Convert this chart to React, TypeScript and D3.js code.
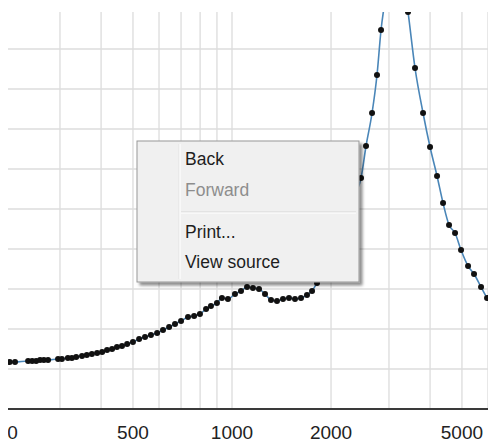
import React from "react";
import * as d3 from "d3";

// frequency (Hz) of each measured point
const freqs = [
  211, 219, 240, 247, 254, 261, 268, 276, 296, 304, 317, 326, 336, 350, 362, 375, 389, 403, 417, 432,
  447, 463, 480, 500, 522, 544, 567, 592, 617, 644, 671, 700, 735, 767, 799, 834, 863, 900, 932, 972,
  1021, 1065, 1111, 1158, 1208, 1260, 1314, 1370, 1429, 1490, 1554, 1621, 1690, 1751, 1813, 1891, 1972, 2057, 2145, 2221,
  2300, 2382, 2467, 2555, 2665, 2759, 2838, 2939, 3044, 3174, 3287, 3428, 3600, 3808, 3999, 4200, 4380, 4568, 4764, 4968,
  5218, 5441, 5715, 5960, 6259,
];
// measured response at each frequency
const values = [
  11.75, 11.75, 12, 12, 12, 12.25, 12.25, 12.25, 12.5, 12.5, 12.75, 12.75, 13, 13.25, 13.5, 13.75, 14, 14.25, 14.75, 15,
  15.5, 15.75, 16.25, 16.75, 17.5, 18, 18.5, 19, 19.75, 20.5, 21.25, 22, 23, 23.25, 23.75, 25, 25.75, 26.5, 27.75, 27.5,
  28.75, 29.5, 30.5, 30.25, 30, 28.75, 27.25, 27, 27.5, 27.75, 27.5, 27.75, 28.5, 29.5, 31.5, 34.25, 37.25, 40.5, 44, 47.25,
  50.75, 54, 57.75, 65.75, 74, 83.5, 94.75, 104, 114.75, 116.25, 109.75, 99.25, 85.25, 74, 65.5, 58.25, 51.5, 46, 44, 39.75,
  35.75, 33.75, 30.5, 27.75, 25.25,
];
const gridFreqs = [200, 300, 400, 500, 600, 700, 800, 900, 1000, 2000, 3000, 4000, 5000, 6000];
const tickFreqs = [200, 500, 1000, 2000, 5000];
const gridValues = [10, 20, 30, 40, 50, 60, 70, 80, 90];
const menuItems = ["Back", "Forward", "Print...", "View source"];
const menuEnabled = [true, false, true, true];

const W = 488;
const H = 443;
const left = 8;
const right = 488;
const top = 12;
const bottom = 409;

export default function App() {
  const x = d3.scaleLog().domain([208.5, 6000]).range([left, right]);
  const y = d3.scaleLinear().domain([0, 99.25]).range([bottom, top]);
  const pts = freqs.map((f, i) => [f, values[i]] as [number, number]);
  const line = d3
    .line<[number, number]>()
    .x((d) => x(d[0]))
    .y((d) => y(d[1]))
    .curve(d3.curveMonotoneX);

  const menuX = 137, menuY = 141, menuW = 222, menuH = 141;
  const baselines = [165, 196, 238, 268];

  return (
    <svg
      width={W}
      height={H}
      style={{ position: "absolute", left: 0, top: 0, background: "#fff" }}
      fontFamily="'Liberation Sans', Arial, sans-serif"
    >
      <defs>
        <clipPath id="plot">
          <rect x={left} y={top} width={right - left} height={bottom - top} />
        </clipPath>
        <clipPath id="page">
          <rect x={left} y={0} width={W - left} height={H} />
        </clipPath>
        <filter id="shadow" x="-10%" y="-10%" width="130%" height="130%">
          <feDropShadow dx="3" dy="3" stdDeviation="1.8" floodColor="#000" floodOpacity="0.45" />
        </filter>
      </defs>
      <rect x={0} y={0} width={W} height={H} fill="#fff" />
      <g clipPath="url(#page)">
        {gridFreqs.map((f) => (
          <line key={"v" + f} x1={x(f)} x2={x(f)} y1={top} y2={bottom} stroke="#dcdcdc" strokeWidth={1.3} />
        ))}
        {gridValues.map((v) => (
          <line key={"h" + v} x1={left} x2={right} y1={y(v)} y2={y(v)} stroke="#dcdcdc" strokeWidth={1.3} />
        ))}
        <line x1={left} x2={right} y1={bottom} y2={bottom} stroke="#3a3a3a" strokeWidth={2} />
        {tickFreqs.map((f) => (
          <text key={"t" + f} x={x(f)} y={439} textAnchor="middle" fontSize={19} fill="#222">
            {f}
          </text>
        ))}
        <g clipPath="url(#plot)">
          <path d={line(pts) || ""} fill="none" stroke="#4a86b8" strokeWidth={1.6} />
          {pts.map((d, i) => (
            <circle key={i} cx={x(d[0])} cy={y(d[1])} r={3} fill="#111" />
          ))}
        </g>
      </g>
      <g>
        <rect x={menuX} y={menuY} width={menuW} height={menuH} fill="#f0f0f0" stroke="#979797" strokeWidth={1} filter="url(#shadow)" />
        <line x1={179} x2={179} y1={menuY + 3} y2={menuY + menuH - 3} stroke="#e2e2e2" strokeWidth={1} />
        <line x1={180} x2={180} y1={menuY + 3} y2={menuY + menuH - 3} stroke="#ffffff" strokeWidth={1} />
        <line x1={181} x2={menuX + menuW - 3} y1={212} y2={212} stroke="#d7d7d7" strokeWidth={1} />
        <line x1={181} x2={menuX + menuW - 3} y1={213} y2={213} stroke="#ffffff" strokeWidth={1} />
        {menuItems.map((m, i) => (
          <text key={m} x={185} y={baselines[i]} fontSize={17.5} fill={menuEnabled[i] ? "#1e1e1e" : "#8d8d8d"}>
            {m}
          </text>
        ))}
      </g>
    </svg>
  );
}
